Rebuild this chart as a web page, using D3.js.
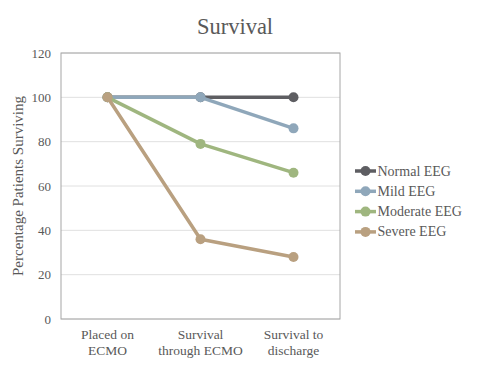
<!DOCTYPE html>
<html><head><meta charset="utf-8">
<script src="https://cdn.jsdelivr.net/npm/d3@7"></script>
<style>body{margin:0;background:#fff}svg{display:block}text{font-family:"Liberation Serif","DejaVu Serif",serif;fill:#595959}</style>
</head><body><svg id="c" width="480" height="374"></svg>
<script>
const categories = ["Placed on\nECMO", "Survival\nthrough ECMO", "Survival to\ndischarge"];
const seriesNames = ["Normal EEG", "Mild EEG", "Moderate EEG", "Severe EEG"];
const normalEEG = [100, 100, 100];
const mildEEG = [100, 100, 86];
const moderateEEG = [100, 79, 66];
const severeEEG = [100, 36, 28];
const colors = ["#5e5e62", "#8fa7ba", "#9fb67f", "#b9a080"];
const yTicks = [0, 20, 40, 60, 80, 100, 120];
const series = [normalEEG, mildEEG, moderateEEG, severeEEG];
const FF = '"Liberation Serif","DejaVu Serif",serif';

const svg = d3.select("#c");
const L = 61, R = 340, T = 53, B = 319;
const x = d3.scaleBand().domain(categories).range([L, R]);
const y = d3.scaleLinear().domain([0, 120]).range([B, T]);

svg.append("text").attr("x", 235).attr("y", 34).attr("text-anchor", "middle")
  .style("font-family", FF).style("font-size", "22.5px").text("Survival");

svg.append("g").selectAll("line").data(yTicks).join("line")
  .attr("x1", L).attr("x2", R).attr("y1", d => y(d)).attr("y2", d => y(d))
  .attr("stroke", "#e0e0e0").attr("stroke-width", 1);
svg.append("rect").attr("x", L).attr("y", T).attr("width", R - L).attr("height", B - T)
  .attr("fill", "none").attr("stroke", "#a6a6a6").attr("stroke-width", 1);

const ya = svg.append("g").attr("transform", `translate(${L},0)`)
  .call(d3.axisLeft(y).tickValues(yTicks).tickSize(0).tickPadding(10));
ya.attr("font-family", null);
ya.select(".domain").remove();
ya.selectAll("text").style("font-size", "13px").style("font-family", FF).attr("fill", "#595959");

const xa = svg.append("g").attr("transform", `translate(0,${B})`)
  .call(d3.axisBottom(x).tickSize(0).tickFormat(""));
xa.attr("font-family", null);
xa.select(".domain").remove();
xa.selectAll(".tick").each(function(d) {
  const t = d3.select(this).append("text").attr("text-anchor", "middle")
    .style("font-family", FF).style("font-size", "13.5px").attr("fill", "#595959");
  d.split("\n").forEach((s, i) => t.append("tspan").attr("x", 0).attr("y", 20 + i * 15.5).text(s));
});

svg.append("text").attr("transform", `translate(23,${(T + B) / 2}) rotate(-90)`)
  .attr("text-anchor", "middle").style("font-family", FF).style("font-size", "15px").text("Percentage Patients Surviving");

const line = d3.line().x((d, i) => x(categories[i]) + x.bandwidth() / 2).y(d => y(d));
series.forEach((s, k) => {
  const g = svg.append("g");
  g.append("path").datum(s).attr("d", line).attr("fill", "none")
    .attr("stroke", colors[k]).attr("stroke-width", 3.5).attr("stroke-linejoin", "round");
  g.selectAll("circle").data(s).join("circle")
    .attr("cx", (d, i) => x(categories[i]) + x.bandwidth() / 2).attr("cy", d => y(d))
    .attr("r", 5).attr("fill", colors[k]);
});

const lg = svg.append("g");
seriesNames.forEach((n, k) => {
  const yy = 171 + k * 20.3;
  lg.append("line").attr("x1", 355).attr("x2", 376).attr("y1", yy).attr("y2", yy)
    .attr("stroke", colors[k]).attr("stroke-width", 3.5);
  lg.append("circle").attr("cx", 365.5).attr("cy", yy).attr("r", 5).attr("fill", colors[k]);
  lg.append("text").attr("x", 377.5).attr("y", yy + 4.5).style("font-family", FF).style("font-size", "14px").text(n);
});
</script></body></html>
